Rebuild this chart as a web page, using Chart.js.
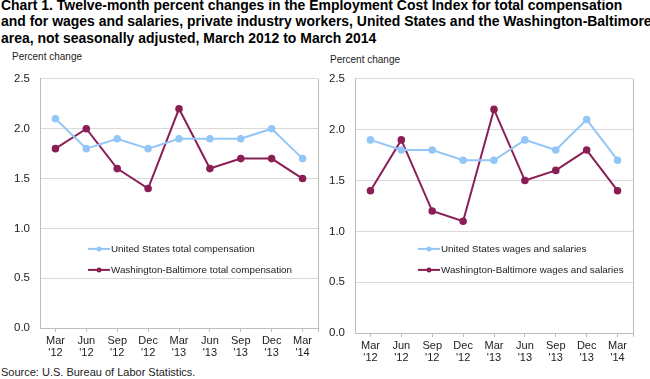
<!DOCTYPE html>
<html>
<head>
<meta charset="utf-8">
<script src="https://cdn.jsdelivr.net/npm/chart.js@4/dist/chart.umd.min.js"></script>
<style>
  html, body { margin: 0; padding: 0; background: #fff; }
  body { width: 650px; height: 379px; position: relative; overflow: hidden; font-family: "Liberation Sans", Arial, sans-serif; }
  #title { position: absolute; left: 1px; top: -3px; width: 700px; font-weight: bold; font-size: 15px; line-height: 16.3px; color: #000; white-space: nowrap; transform: scaleX(0.93); transform-origin: 0 0; }
  .ytitle { position: absolute; font-size: 10px; color: #222; white-space: nowrap; }
  #source { position: absolute; left: 1px; top: 366px; font-size: 11px; color: #222; white-space: nowrap; }
  .box { position: absolute; }
</style>
</head>
<body>
<div id="title">Chart 1. Twelve-month percent changes in the Employment Cost Index for total compensation<br>and for wages and salaries, private industry workers, United States and the Washington-Baltimore<br>area, not seasonally adjusted, March 2012 to March 2014</div>
<div class="ytitle" style="left:12px; top:51px;">Percent change</div>
<div class="ytitle" style="left:330px; top:54px;">Percent change</div>
<div class="box" style="left:0px; top:62px; width:330px; height:300px;"><canvas id="c1"></canvas></div>
<div class="box" style="left:320px; top:62px; width:330px; height:305px;"><canvas id="c2"></canvas></div>
<div id="source">Source: U.S. Bureau of Labor Statistics.</div>
<script>
const months = ["Mar", "Jun", "Sep", "Dec", "Mar", "Jun", "Sep", "Dec", "Mar"];
const years  = ["'12", "'12", "'12", "'12", "'13", "'13", "'13", "'13", "'14"];

const usTotalComp = [2.1, 1.8, 1.9, 1.8, 1.9, 1.9, 1.9, 2.0, 1.7];
const wbTotalComp = [1.8, 2.0, 1.6, 1.4, 2.2, 1.6, 1.7, 1.7, 1.5];
const usWages     = [1.9, 1.8, 1.8, 1.7, 1.7, 1.9, 1.8, 2.1, 1.7];
const wbWages     = [1.4, 1.9, 1.2, 1.1, 2.2, 1.5, 1.6, 1.8, 1.4];

const yTicks = [0.0, 0.5, 1.0, 1.5, 2.0, 2.5];

const BLUE = "#94c6f7";
const MAROON = "#8a1f55";
const AXIS = "#bdbdbd";
const GRID = "#d9d9d9";
const FONT = "'Liberation Sans', Arial, sans-serif";

const labels = months.map((m, i) => [m, years[i]]);

const frame = {
  id: "frame",
  afterDraw(chart, args, opts) {
    const { ctx, chartArea } = chart;
    ctx.save();
    ctx.strokeStyle = AXIS;
    ctx.lineWidth = 1;
    const x = Math.round(chartArea.right) + 0.5;
    ctx.beginPath();
    ctx.moveTo(x, chartArea.top);
    ctx.lineTo(x, chartArea.bottom + 4);
    ctx.stroke();
    // legend
    ctx.font = "9.8px " + FONT;
    ctx.textBaseline = "middle";
    chart.data.datasets.forEach((ds, i) => {
      const lx = chartArea.left + opts.legendX;
      const ly = chartArea.top + opts.legendY + i * 21;
      ctx.strokeStyle = ds.borderColor;
      ctx.lineWidth = 2;
      ctx.beginPath();
      ctx.moveTo(lx, ly);
      ctx.lineTo(lx + 22, ly);
      ctx.stroke();
      ctx.fillStyle = ds.borderColor;
      ctx.beginPath();
      ctx.arc(lx + 11, ly, 2.5, 0, Math.PI * 2);
      ctx.fill();
      ctx.fillStyle = "#222";
      ctx.fillText(ds.label, lx + 23, ly);
    });
    ctx.restore();
  }
};

function makeChart(id, ds1, ds2, yAxisWidth, pad, legendX) {
  return new Chart(document.getElementById(id), {
    type: "line",
    data: {
      labels: labels,
      datasets: [
        { label: ds1.label, data: ds1.data, borderColor: BLUE, backgroundColor: BLUE, pointBackgroundColor: BLUE, pointBorderColor: BLUE, borderWidth: 2, pointRadius: 2.8, tension: 0 },
        { label: ds2.label, data: ds2.data, borderColor: MAROON, backgroundColor: MAROON, pointBackgroundColor: MAROON, pointBorderColor: MAROON, borderWidth: 2, pointRadius: 2.8, tension: 0 }
      ]
    },
    options: {
      responsive: true,
      maintainAspectRatio: false,
      animation: false,
      layout: { padding: pad },
      plugins: {
        legend: { display: false },
        tooltip: { enabled: false },
        frame: { legendX: legendX, legendY: 170 }
      },
      scales: {
        x: {
          offset: true,
          grid: { display: true, drawOnChartArea: false, drawTicks: true, tickLength: 4, offset: false, color: AXIS },
          border: { display: true, color: AXIS },
          ticks: { color: "#222", font: { family: FONT, size: 11, lineHeight: 1.1 }, padding: 3, maxRotation: 0, autoSkip: false },
          afterFit(scale) { scale.height = 34; }
        },
        y: {
          min: 0, max: 2.5,
          afterBuildTicks(scale) { scale.ticks = yTicks.map(v => ({ value: v })); },
          grid: { color: GRID, drawTicks: false },
          border: { display: true, color: AXIS },
          ticks: { color: "#222", font: { family: FONT, size: 11.5 }, padding: 10, callback: v => Number(v).toFixed(1) },
          afterFit(scale) { scale.width = yAxisWidth; }
        }
      }
    },
    plugins: [frame]
  });
}

makeChart("c1",
  { label: "United States total compensation", data: usTotalComp },
  { label: "Washington-Baltimore total compensation", data: wbTotalComp },
  40, { top: 8, right: 12, left: 0, bottom: 0 }, 48);

makeChart("c2",
  { label: "United States wages and salaries", data: usWages },
  { label: "Washington-Baltimore wages and salaries", data: wbWages },
  35, { top: 12, right: 17, left: 0, bottom: 0 }, 63);
</script>
</body>
</html>
